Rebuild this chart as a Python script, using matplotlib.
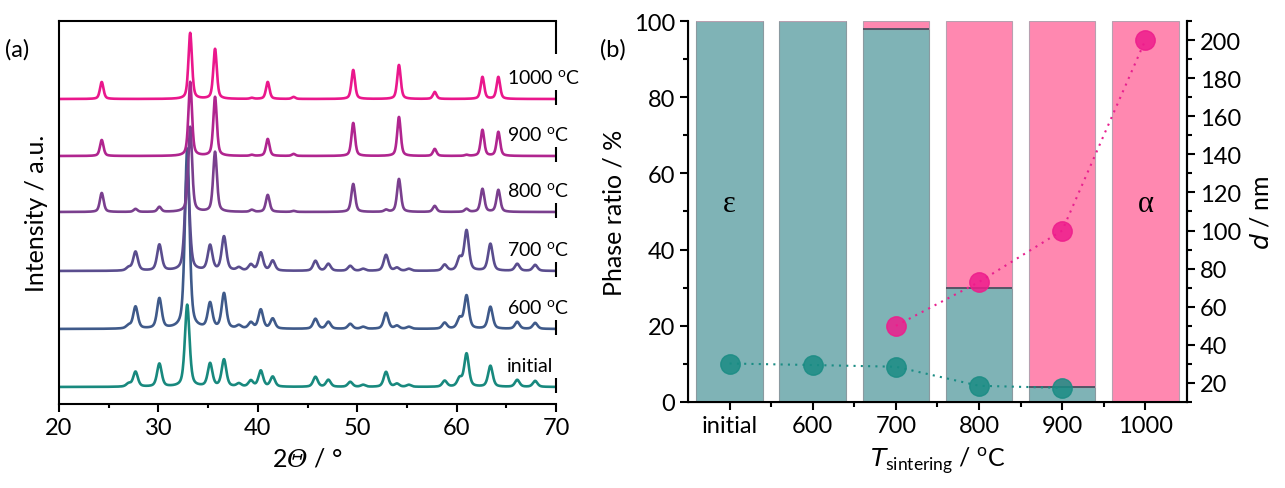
import matplotlib
matplotlib.use("Agg")
import matplotlib.pyplot as plt
from matplotlib.ticker import MultipleLocator, FixedLocator
import numpy as np

plt.rcParams['font.family'] = ['Lato', 'DejaVu Sans']
plt.rcParams['mathtext.fontset'] = 'custom'
plt.rcParams['mathtext.rm'] = 'Lato'
plt.rcParams['mathtext.it'] = 'DejaVu Sans:italic'
plt.rcParams['mathtext.sf'] = 'DejaVu Serif:italic'

# ---- panel (a): XRD patterns, peak lists ----
two_theta = np.linspace(20, 70, 2001)
pattern_names = ['initial', '600 $^\\mathregular{o}$C', '700 $^\\mathregular{o}$C',
                 '800 $^\\mathregular{o}$C', '900 $^\\mathregular{o}$C', '1000 $^\\mathregular{o}$C']
pattern_colors = ['#18897e', '#3f5a8a', '#5a4d8e', '#7a3f8e', '#b0258f', '#ea178c']
pattern_offsets = [17, 75, 133, 192, 248, 305]
pattern_widths = [0.55, 0.55, 0.55, 0.45, 0.42, 0.42]

eps_pos = [27.0, 27.7, 30.1, 32.9, 35.2, 36.6, 38.1, 39.3, 40.3, 41.5, 45.8, 47.1,
           49.3, 50.6, 52.9, 54.0, 55.2, 58.8, 60.3, 61.0, 63.4, 66.1, 67.9]
initial_h = [3, 15, 23, 82, 23, 27, 3, 6, 16, 10, 10, 7, 5, 2, 15, 3, 2, 6, 8, 33, 21, 7, 6]
s600_h = [3, 22, 30, 180, 25, 35, 3, 6, 19, 10, 10, 7, 5, 2, 16, 3, 2, 6, 10, 33, 22, 7, 6]
s700_h = [3, 19, 26, 100, 25, 34, 3, 6, 18, 10, 10, 7, 5, 2, 16, 3, 2, 6, 12, 40, 27, 7, 6]

alpha_pos = [24.3, 27.7, 30.1, 33.2, 35.7, 39.4, 41.0, 43.6, 49.6, 52.9, 54.2, 57.8, 61.0, 62.6, 64.2]
s800_h = [19, 3, 5, 85, 60, 2, 17, 1, 28, 2, 33, 6, 3, 23, 22]
s900_h = [16, 0, 0, 74, 59, 1, 17, 2, 33, 0, 39, 7, 1, 26, 24]
s1000_h = [17, 0, 0, 66, 50, 1, 17, 2, 29, 0, 34, 7, 0, 22, 22]

pattern_peaks = [(eps_pos, initial_h), (eps_pos, s600_h), (eps_pos, s700_h),
                 (alpha_pos, s800_h), (alpha_pos, s900_h), (alpha_pos, s1000_h)]

# ---- panel (b): phase ratio and crystallite size ----
categories = ['initial', '600', '700', '800', '900', '1000']
eps_ratio = [100, 100, 98, 30, 4, 0]
alpha_ratio = [0, 0, 2, 70, 96, 100]
d_eps = [30.2, 29.4, 28.5, 18.5, 17.4]
d_alpha = [50, 73, 100, 200]
d_alpha_start = 2


def profile(pos, heights, width):
    y = np.zeros_like(two_theta)
    for p, h in zip(pos, heights):
        g = np.exp(-4 * np.log(2) * (two_theta - p) ** 2 / width ** 2)
        l = 1 / (1 + 4 * (two_theta - p) ** 2 / width ** 2)
        y += h * (0.5 * g + 0.5 * l)
    return y


fig = plt.figure(figsize=(12.85, 4.89), dpi=100)
ax1 = fig.add_axes([0.0459, 0.1718, 0.3868, 0.7832])
ax2 = fig.add_axes([0.5354, 0.1759, 0.3883, 0.7791])

for (pos, hts), col, off, w, name in zip(pattern_peaks, pattern_colors, pattern_offsets,
                                         pattern_widths, pattern_names):
    ax1.plot(two_theta, off + profile(pos, hts, w), color=col, lw=1.9)
    ax1.text(65.1, off + 21, name, fontsize=14, va='center', ha='left', clip_on=False)
    ax1.vlines(70, off - 6, off + 9, color='black', lw=1.5, clip_on=False)

ax1.set_xlim(20, 70)
ax1.set_ylim(0, 383)
ax1.set_yticks([])
ax1.spines['right'].set_visible(False)
ax1.vlines(70, 350, 383, color='black', lw=1.5, clip_on=False)
for s in ['left', 'top', 'bottom']:
    ax1.spines[s].set_linewidth(1.5)
ax1.xaxis.set_major_locator(MultipleLocator(10))
ax1.xaxis.set_minor_locator(MultipleLocator(5))
ax1.tick_params(axis='x', which='major', direction='out', length=6, width=1.5, labelsize=17)
ax1.tick_params(axis='x', which='minor', direction='out', length=3, width=1.5)
ax1.set_xlabel('2$\\mathsf{\\Theta}$ / °', fontsize=18, labelpad=6)
ax1.set_ylabel('Intensity / a.u.', fontsize=18, labelpad=8)
fig.text(0.004, 0.885, '(a)', fontsize=17)

# ---- panel (b) ----
x = np.arange(len(categories))
ax2.bar(x, eps_ratio, width=0.8, color='#7fb3b6', edgecolor='#8a9aa0', lw=0.8, zorder=1)
ax2.bar(x, alpha_ratio, width=0.8, bottom=eps_ratio, color='#ff88b0', edgecolor='#b8a0b0', lw=0.8, zorder=1)
mixed = [i for i in x if 0 < eps_ratio[i] < 100]
ax2.hlines([eps_ratio[i] for i in mixed], [i - 0.4 for i in mixed], [i + 0.4 for i in mixed],
           color='#4a5060', lw=1.3, zorder=2)
ax2.set_xlim(-0.5, 5.5)
ax2.set_ylim(0, 100)
ax2.set_xticks(x)
ax2.set_xticklabels(categories)
ax2.xaxis.set_minor_locator(FixedLocator(x[:-1] + 0.5))
ax2.yaxis.set_major_locator(MultipleLocator(20))
ax2.yaxis.set_minor_locator(MultipleLocator(10))
ax2.tick_params(axis='both', which='major', direction='out', length=6, width=1.5, labelsize=17)
ax2.tick_params(axis='both', which='minor', direction='out', length=3.5, width=1.5)
ax2.spines['top'].set_visible(False)
for s in ['left', 'right', 'bottom']:
    ax2.spines[s].set_linewidth(1.5)
ax2.set_ylabel('Phase ratio / %', fontsize=18, labelpad=6)
ax2.set_xlabel('$\\mathit{T}_{\\mathregular{sintering}}$ / $^\\mathregular{o}$C', fontsize=18, labelpad=6)
ax2.text(0, 52, 'ε', fontsize=22, family='Liberation Serif', ha='center', va='center')
ax2.text(5, 52, 'α', fontsize=22, family='Liberation Serif', ha='center', va='center')
fig.text(0.467, 0.885, '(b)', fontsize=17)

ax3 = ax2.twinx()
ax3.set_ylim(10, 210)
ax3.yaxis.set_major_locator(MultipleLocator(20))
ax3.yaxis.set_minor_locator(MultipleLocator(10))
ax3.set_yticks(np.arange(20, 201, 20))
ax3.tick_params(axis='y', which='major', direction='out', length=6, width=1.5, labelsize=17)
ax3.tick_params(axis='y', which='minor', direction='out', length=3.5, width=1.5)
ax3.spines['top'].set_visible(False)
ax3.spines['right'].set_linewidth(1.5)
ax3.plot(x[:len(d_eps)], d_eps, ls=(0, (1, 2.5)), color='#1a8c84', lw=1.5, zorder=1)
ax3.plot(x[:len(d_eps)], d_eps, 'o', ms=14, color='#1a8c84', alpha=0.85, zorder=2)
xa = x[d_alpha_start:d_alpha_start + len(d_alpha)]
ax3.plot(xa, d_alpha, ls=(0, (1, 2.5)), color='#e8208f', lw=1.5, zorder=1)
ax3.plot(xa, d_alpha, 'o', ms=14, color='#ee1c8c', alpha=0.85, zorder=2)
ax3.set_ylabel('$\\mathit{d}$ / nm', fontsize=18, labelpad=6)

fig.savefig('out.png', dpi=100)
